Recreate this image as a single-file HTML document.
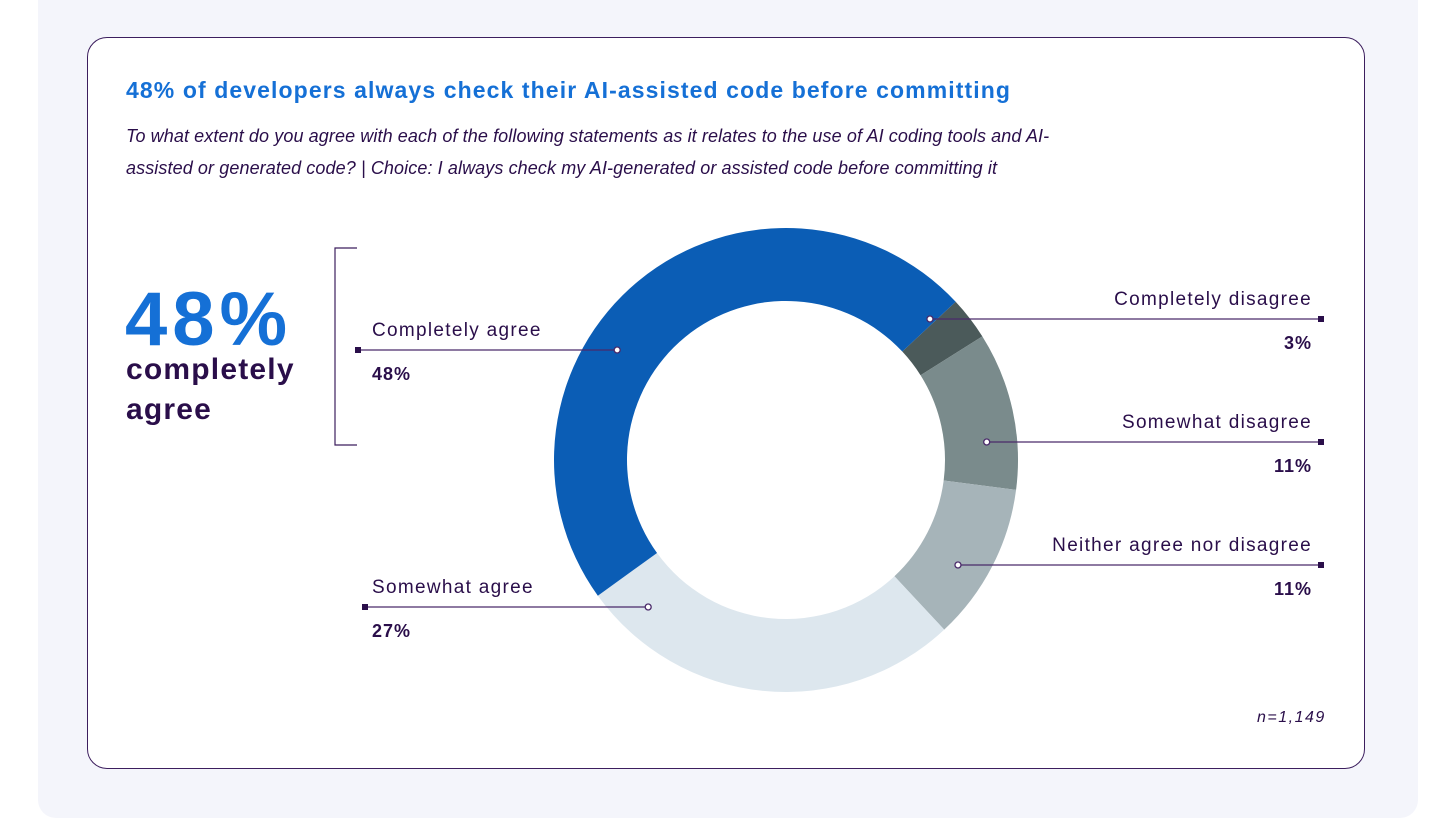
<!DOCTYPE html>
<html><head><meta charset="utf-8"><style>
body{margin:0;width:1456px;height:819px;background:#fff;font-family:"Liberation Sans",sans-serif;overflow:hidden}
.bg{position:absolute;left:38px;top:-20px;width:1380px;height:838px;background:#f4f5fb;border-radius:18px}
.card{position:absolute;left:87px;top:37px;width:1276px;height:730px;background:#fff;border:1.5px solid #3c1e5e;border-radius:20px}
.t{position:absolute;color:#2a0e4a;white-space:nowrap}
</style></head><body>
<div class="bg"></div>
<div class="card"></div>
<div class="t" style="left:126px;top:77px;font-size:23px;font-weight:bold;color:#1570d6;letter-spacing:1.1px">48% of developers always check their AI-assisted code before committing</div>
<div class="t" style="left:126px;top:120px;font-size:18px;font-style:italic;line-height:32px;letter-spacing:0.1px">To what extent do you agree with each of the following statements as it relates to the use of AI coding tools and AI-<br>assisted or generated code? | Choice: I always check my AI-generated or assisted code before committing it</div>
<div class="t" style="left:125px;top:276px;font-size:76px;font-weight:bold;color:#1570d6;letter-spacing:5px">48%</div>
<div class="t" style="left:126px;top:350px;font-size:30px;font-weight:bold;line-height:40px;letter-spacing:1.2px">completely<br>agree</div>
<div class="t" style="left:1257px;top:709px;font-size:16px;font-style:italic;letter-spacing:1.5px">n=1,149</div>
<svg id="chart" width="1456" height="819" style="position:absolute;left:0;top:0">
<path d="M357 248 H335 V445 H357" fill="none" stroke="#3c1e5e" stroke-width="1.2"/>
<g id="slices"></g><g id="labels"></g>
</svg>
<script>
const categories=["Completely disagree","Somewhat disagree","Neither agree nor disagree","Somewhat agree","Completely agree"];
const values=[3,11,11,27,48];
const pctLabels=["3%","11%","11%","27%","48%"];
const colors=["#4b5a5a","#7a8b8c","#a6b4b9","#dde7ee","#0b5db5"];
const cx=786,cy=460,R=232,r=159,start=47;
const total=values.reduce((a,b)=>a+b,0);
function pt(rad,deg){const a=deg*Math.PI/180;return [cx+rad*Math.sin(a),cy-rad*Math.cos(a)];}
const NS="http://www.w3.org/2000/svg";
const g=document.getElementById('slices'),lg=document.getElementById('labels');
let acc=start;
values.forEach((v,i)=>{
 const a0=acc,a1=acc+v/total*360;acc=a1;
 const large=(a1-a0)>180?1:0;
 const [x0,y0]=pt(R,a0),[x1,y1]=pt(R,a1),[x2,y2]=pt(r,a1),[x3,y3]=pt(r,a0);
 const p=document.createElementNS(NS,'path');
 p.setAttribute('d',`M${x0} ${y0}A${R} ${R} 0 ${large} 1 ${x1} ${y1}L${x2} ${y2}A${r} ${r} 0 ${large} 0 ${x3} ${y3}Z`);
 p.setAttribute('fill',colors[i]);
 
 
 g.appendChild(p);
});
const lay=[[319,1321,'r'],[442,1321,'r'],[565,1321,'r'],[607,365,'l'],[350,358,'l']];
values.forEach((v,i)=>{
 const [ly,ex,side]=lay[i];
 const rm=(R+r)/2+6;const dy=ly-cy;const dx=Math.sqrt(Math.max(0,rm*rm-dy*dy));
 const ax=side==='r'?cx+dx:cx-dx;
 const l=document.createElementNS(NS,'line');
 l.setAttribute('x1',ax);l.setAttribute('y1',ly);l.setAttribute('x2',ex);l.setAttribute('y2',ly);
 l.setAttribute('stroke','#4a2a6a');l.setAttribute('stroke-width','1.3');
 
 
 lg.appendChild(l);
 const c=document.createElementNS(NS,'circle');
 c.setAttribute('cx',ax);c.setAttribute('cy',ly);c.setAttribute('r','3');c.setAttribute('fill','#fff');c.setAttribute('stroke','#4a2a6a');c.setAttribute('stroke-width','1.3');
 
 
 lg.appendChild(c);
 const s=document.createElementNS(NS,'rect');
 s.setAttribute('x',ex-3);s.setAttribute('y',ly-3);s.setAttribute('width','6');s.setAttribute('height','6');s.setAttribute('fill','#2a0e4a');
 
 
 lg.appendChild(s);
 const tx=side==='r'?ex-9:372,anchor=side==='r'?'end':'start';
 const t1=document.createElementNS(NS,'text');
 t1.setAttribute('x',tx);t1.setAttribute('y',ly-14);t1.setAttribute('text-anchor',anchor);t1.setAttribute('font-size','19');t1.setAttribute('letter-spacing','1.3');t1.setAttribute('fill','#2a0e4a');t1.setAttribute('font-family','Liberation Sans, sans-serif');
 t1.textContent=categories[i];
 
 
 lg.appendChild(t1);
 const t2=document.createElementNS(NS,'text');
 t2.setAttribute('x',tx);t2.setAttribute('y',ly+30);t2.setAttribute('text-anchor',anchor);t2.setAttribute('font-size','18');t2.setAttribute('letter-spacing','1');t2.setAttribute('font-weight','bold');t2.setAttribute('fill','#2a0e4a');t2.setAttribute('font-family','Liberation Sans, sans-serif');
 t2.textContent=pctLabels[i];
 
 
 lg.appendChild(t2);
});
</script>
</body></html>
